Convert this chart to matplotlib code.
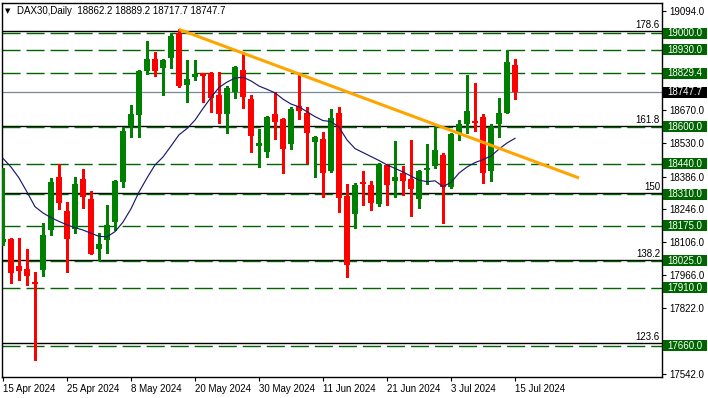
import matplotlib
matplotlib.use("Agg")
import matplotlib.pyplot as plt
from matplotlib.patches import Rectangle
from matplotlib.transforms import IdentityTransform
import numpy as np

plt.rcParams['font.family'] = ['Liberation Sans', 'DejaVu Sans']
plt.rcParams['lines.scale_dashes'] = False

# ---------------- data ----------------
symbol_title = "DAX30,Daily"
header_values = ["18862.2", "18889.2", "18717.7", "18747.7"]

opens = [18106, 18119, 18003, 17990, 17934, 17986, 18157, 18384, 18239, 18160,
         18376, 18290, 18077, 18116, 18193, 18364, 18603, 18650, 18840, 18890,
         18853, 18895, 19003, 18778, 18814, 18829, 18829, 18736, 18653, 18750,
         18843, 18718, 18518, 18493, 18654, 18631, 18524, 18688, 18660, 18535,
         18547, 18410, 18660, 18303, 18226, 18364, 18350, 18268, 18436, 18368,
         18400, 18376, 18290, 18414, 18431, 18478, 18340, 18568, 18611, 18625,
         18640, 18411, 18611, 18660, 18862.2]
highs = [18423, 18121, 18124, 18076, 17976, 18188, 18381, 18440, 18278, 18386,
         18419, 18324, 18144, 18264, 18371, 18600, 18693, 18843, 18968, 18921,
         18889, 19000, 19017, 18886, 18886, 18831, 18835, 18835, 18774, 18861,
         18910, 18736, 18590, 18647, 18750, 18636, 18683, 18829, 18683, 18560,
         18578, 18674, 18685, 18353, 18357, 18410, 18368, 18445, 18440, 18538,
         18431, 18543, 18414, 18526, 18610, 18488, 18571, 18628, 18821, 18788,
         18654, 18610, 18721, 18930, 18889.2]
lows = [18093, 17929, 17943, 17922, 17600, 17960, 18136, 18247, 17978, 18146,
        18253, 18054, 18029, 18060, 18157, 18343, 18554, 18554, 18826, 18818,
        18736, 18853, 18771, 18707, 18800, 18707, 18664, 18617, 18574, 18724,
        18679, 18493, 18428, 18469, 18546, 18400, 18503, 18631, 18446, 18385,
        18300, 18407, 18235, 17957, 18167, 18264, 18243, 18261, 18264, 18300,
        18307, 18217, 18253, 18353, 18424, 18188, 18338, 18541, 18571, 18583,
        18360, 18368, 18557, 18658, 18717.7]
closes = [18119, 17974, 17983, 17961, 17924, 18136, 18364, 18274, 18119, 18354,
          18300, 18056, 18097, 18179, 18367, 18581, 18654, 18840, 18890, 18840,
          18886, 18990, 18775, 18804, 18826, 18818, 18724, 18653, 18764, 18854,
          18728, 18561, 18531, 18643, 18621, 18503, 18676, 18668, 18571, 18557,
          18403, 18638, 18295, 18007, 18350, 18354, 18274, 18440, 18350, 18383,
          18368, 18334, 18410, 18421, 18500, 18343, 18568, 18610, 18667, 18617,
          18403, 18600, 18660, 18878, 18747.7]
ma_values = [18464, 18427, 18380, 18320, 18257, 18230, 18210, 18194, 18179, 18167,
             18157, 18143, 18130, 18128, 18150, 18191, 18248, 18320, 18380, 18436,
             18470, 18517, 18565, 18592, 18628, 18678, 18725, 18768, 18791, 18808,
             18812, 18796, 18774, 18760, 18745, 18718, 18697, 18685, 18664, 18643,
             18626, 18622, 18598, 18543, 18506, 18489, 18472, 18455, 18436, 18421,
             18406, 18388, 18371, 18364, 18368, 18343, 18361, 18401, 18427, 18446,
             18459, 18474, 18504, 18530, 18550]

date_labels = ["15 Apr 2024", "25 Apr 2024", "8 May 2024", "20 May 2024", "30 May 2024",
               "11 Jun 2024", "21 Jun 2024", "3 Jul 2024", "15 Jul 2024"]
date_label_bars = [0, 8, 16, 24, 32, 40, 48, 56, 64]

# ticks on the price scale; the ones hidden under price boxes carry no label
y_ticks = [19094.0, 18954.0, 18810.0, 18670.0, 18530.0, 18386.0, 18246.0,
           18106.0, 17966.0, 17822.0, 17682.0, 17542.0]
y_tick_labels = ["19094.0", "", "", "18670.0", "18530.0", "18386.0", "18246.0",
                 "18106.0", "17966.0", "17822.0", "", "17542.0"]

level_values = [19000.0, 18930.0, 18829.4, 18600.0, 18440.0, 18310.0,
                18175.0, 18025.0, 17910.0, 17660.0]
fib_labels = ["178.6", "161.8", "150", "138.2", "123.6"]
fib_values = [19010, 18603, 18314, 18029, 17672]
current_price = 18747.7

trend_bars = [22, 72]
trend_prices = [19017, 18380]

# ---------------- styles ----------------
GREEN = "#008000"
RED = "#FF0000"
LEVEL_GREEN = "#006400"
BOX_GREEN = "#006400"
MA_COLOR = "#1A1A6E"
TREND_COLOR = "#FFA500"
CUR_COLOR = "#778899"

W, H = 708, 398
fig = plt.figure(figsize=(W / 100, H / 100), dpi=100)
fig.patch.set_facecolor("white")
ax = fig.add_axes([2 / W, 21 / H, 660 / W, 374 / H])
ax.set_facecolor("white")
ax.set_xlim(-0.125, 82.375)
ax.set_ylim(17527, 19130)

for sp in ax.spines.values():
    sp.set_color("black")
    sp.set_linewidth(1.0)

# horizontal levels
for v in fib_values:
    ax.axhline(v, color="black", lw=1.0, zorder=1)
for v in level_values:
    ax.axhline(v, color=LEVEL_GREEN, lw=1.0, dashes=(13, 4.3), zorder=1.5)
ax.axhline(current_price, color=CUR_COLOR, lw=0.9, zorder=1.2)

for lbl, v in zip(fib_labels, fib_values):
    ax.text(0.997, v + 4, lbl, transform=ax.get_yaxis_transform(), ha="right",
            va="bottom", fontsize=7, color="black", zorder=2)

# candles
x = np.arange(len(opens))
o = np.array(opens, float)
c = np.array(closes, float)
hi = np.array(highs, float)
lo = np.array(lows, float)
cols = [GREEN if cc >= oo else RED for oo, cc in zip(o, c)]
ax.vlines(x, lo, hi, colors=cols, lw=0.8, zorder=3, antialiased=False)
heights = np.maximum(np.abs(c - o), 4.0)
ax.bar(x, heights, bottom=np.minimum(o, c), width=0.63, color=cols,
       linewidth=0, zorder=4)

# moving average and trendline
ax.plot(x, ma_values, color=MA_COLOR, lw=0.85, zorder=5)
ax.plot(trend_bars, trend_prices, color=TREND_COLOR, lw=2.2,
        solid_capstyle="butt", zorder=6)

# axes ticks
ax.yaxis.tick_right()
ax.set_yticks(y_ticks)
ax.set_yticklabels(y_tick_labels)
ax.tick_params(axis="y", length=3, width=0.8, pad=2.5, labelsize=7,
               colors="black")
ax.set_xticks(date_label_bars)
ax.set_xticklabels(date_labels)
ax.tick_params(axis="x", length=3, width=0.8, pad=2, labelsize=7,
               colors="black")
for t in ax.get_xticklabels():
    t.set_ha("left")

# price boxes on the right axis
def box(value, fc, text):
    yd = ax.transData.transform((0, value))[1]
    fig.add_artist(Rectangle((663, yd - 5.5), 44, 11, transform=IdentityTransform(),
                             facecolor=fc, edgecolor="none", zorder=5))
    fig.text(667.5, yd, text, transform=IdentityTransform(), color="white",
             fontsize=7, va="center", ha="left", zorder=6)

for v in level_values:
    box(v, BOX_GREEN, f"{v:.1f}")
box(current_price, "black", f"{current_price:.1f}")

# header
fig.text(5, H - 11, "\u25BC", transform=IdentityTransform(), fontsize=5,
         family="DejaVu Sans", va="center", ha="left", color="black")
fig.text(17, H - 11, symbol_title + "  " + " ".join(header_values),
         transform=IdentityTransform(), fontsize=7, va="center", ha="left",
         color="black")

fig.savefig("out.png", dpi=100, facecolor="white")
